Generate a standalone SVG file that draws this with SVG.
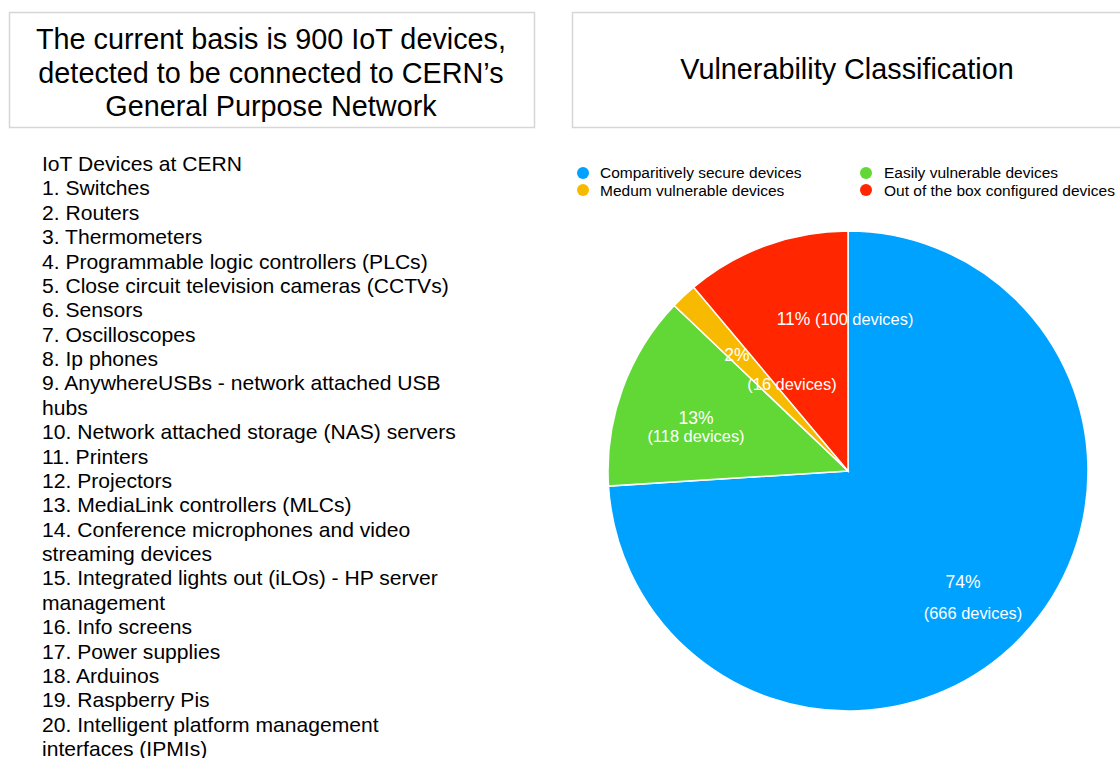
<svg xmlns="http://www.w3.org/2000/svg" width="1120" height="758" viewBox="0 0 1120 758">
<style>
.box{fill:#fff;stroke:#d6d6d6;stroke-width:1.5}
.t{font-family:"Liberation Sans",Arial,sans-serif;fill:#000}
.title{font-size:28.8px;text-anchor:middle}
.leg{font-size:15.5px}
.list{font-size:21.1px}
.lbl{font-family:"Liberation Sans",Arial,sans-serif;fill:#fff;font-size:16.4px;text-anchor:middle}
.big{font-size:17.5px}
.sl{stroke:#fff;stroke-width:1.5}
</style>
<rect width="1120" height="758" fill="#fff"/>
<g id="summary">
<rect class="box" x="9.5" y="12.5" width="525" height="115"/>
<text class="t title" x="271" y="49">The current basis is 900 IoT devices,</text>
<text class="t title" x="271" y="83">detected to be connected to CERN’s</text>
<text class="t title" x="271" y="116">General Purpose Network</text>
</g>
<g id="chart-title">
<rect class="box" x="572.5" y="12.5" width="560" height="115"/>
<text class="t title" x="847" y="79">Vulnerability Classification</text>
</g>
<g id="legend">
<circle cx="583" cy="173" r="6" fill="#00A2FF"/>
<text class="t leg" x="600" y="178">Comparitively secure devices</text>
<circle cx="583" cy="190" r="6" fill="#F8BA00"/>
<text class="t leg" x="600" y="195.5">Medum vulnerable devices</text>
<circle cx="866" cy="173" r="6" fill="#61D836"/>
<text class="t leg" x="884" y="178">Easily vulnerable devices</text>
<circle cx="866" cy="190" r="6" fill="#FF2600"/>
<text class="t leg" x="884" y="195.5">Out of the box configured devices</text>
</g>
<g id="device-list" class="t list">
<text x="42" y="171">IoT Devices at CERN</text>
<text x="42" y="195.4">1. Switches</text>
<text x="42" y="219.8">2. Routers</text>
<text x="42" y="244.1">3. Thermometers</text>
<text x="42" y="268.5">4. Programmable logic controllers (PLCs)</text>
<text x="42" y="292.9">5. Close circuit television cameras (CCTVs)</text>
<text x="42" y="317.3">6. Sensors</text>
<text x="42" y="341.6">7. Oscilloscopes</text>
<text x="42" y="366">8. Ip phones</text>
<text x="42" y="390.4">9. AnywhereUSBs - network attached USB</text>
<text x="42" y="414.8">hubs</text>
<text x="42" y="439.1">10. Network attached storage (NAS) servers</text>
<text x="42" y="463.5">11. Printers</text>
<text x="42" y="487.9">12. Projectors</text>
<text x="42" y="512.3">13. MediaLink controllers (MLCs)</text>
<text x="42" y="536.6">14. Conference microphones and video</text>
<text x="42" y="561">streaming devices</text>
<text x="42" y="585.4">15. Integrated lights out (iLOs) - HP server</text>
<text x="42" y="609.8">management</text>
<text x="42" y="634.1">16. Info screens</text>
<text x="42" y="658.5">17. Power supplies</text>
<text x="42" y="682.9">18. Arduinos</text>
<text x="42" y="707.3">19. Raspberry Pis</text>
<text x="42" y="731.6">20. Intelligent platform management</text>
<text x="42" y="756">interfaces (IPMIs)</text>
</g>
<g id="pie">
<path class="sl" fill="#00A2FF" d="M848,471 L848,231 A240,240 0 1 1 608.5,486.1 Z"/>
<path class="sl" fill="#61D836" d="M848,471 L608.5,486.1 A240,240 0 0 1 674.2,305.5 Z"/>
<path class="sl" fill="#F8BA00" d="M848,471 L674.2,305.5 A240,240 0 0 1 693.7,287.2 Z"/>
<path class="sl" fill="#FF2600" d="M848,471 L693.7,287.2 A240,240 0 0 1 848,231 Z"/>
<text class="lbl" x="845" y="325"><tspan class="big">11%</tspan> (100 devices)</text>
<text class="lbl big" x="737" y="361">2%</text>
<text class="lbl" x="792" y="390">(16 devices)</text>
<text class="lbl big" x="696" y="424">13%</text>
<text class="lbl" x="696" y="442">(118 devices)</text>
<text class="lbl big" x="963" y="588">74%</text>
<text class="lbl" x="973" y="619">(666 devices)</text>
</g>
</svg>
